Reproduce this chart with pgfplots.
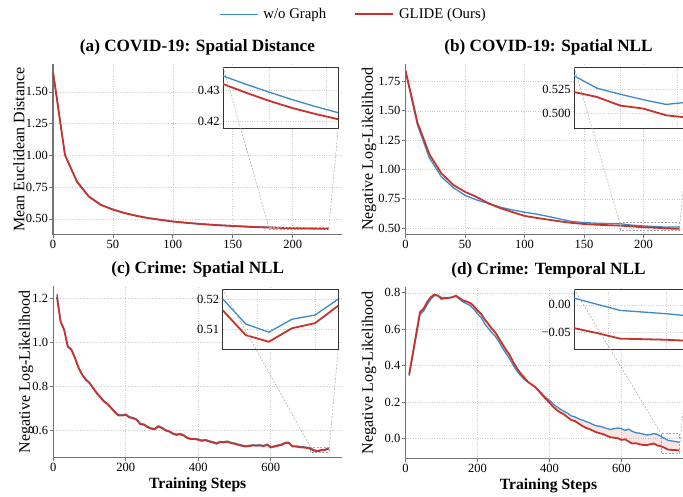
\documentclass[border={0pt 0pt -9pt 0pt}]{standalone}
\usepackage{fontspec}
\setmainfont{Liberation Serif}
\usepackage{pgfplots}
\pgfplotsset{compat=1.18}
\usepackage{pgfplotstable}
\usepgfplotslibrary{fillbetween}

\definecolor{cblue}{RGB}{59,138,200}
\definecolor{cred}{RGB}{200,50,42}
\definecolor{gridc}{RGB}{205,205,205}

\pgfplotstableread{
x blue red
0 1.662 1.660
10 1.005 1.003
20 0.795 0.793
30 0.677 0.675
40 0.612 0.610
50 0.575 0.573
60 0.547 0.545
70 0.525 0.523
80 0.507 0.505
90 0.494 0.492
100 0.481 0.479
110 0.472 0.470
120 0.464 0.462
130 0.457 0.455
140 0.451 0.449
150 0.446 0.444
160 0.442 0.439
170 0.438 0.435
180 0.4347 0.4321
190 0.4320 0.4293
200 0.4295 0.4267
210 0.4271 0.4244
220 0.4249 0.4225
230 0.4229 0.4208
}\tabA

\pgfplotstableread{
x blue red
0 1.835 1.845
10 1.380 1.400
20 1.100 1.130
30 0.940 0.970
40 0.847 0.870
50 0.780 0.810
60 0.740 0.765
70 0.710 0.710
80 0.678 0.670
90 0.656 0.637
100 0.636 0.605
110 0.620 0.588
120 0.600 0.573
130 0.578 0.558
140 0.557 0.545
150 0.548 0.536
160 0.543 0.530
170 0.540 0.526
180 0.539 0.522
190 0.526 0.5168
200 0.5197 0.5078
210 0.514 0.5047
220 0.509 0.4976
230 0.5115 0.495
}\tabB

\pgfplotstableread{
x blue red
10 1.220 1.207
20 1.097 1.094
30 1.059 1.056
40 0.983 0.980
50 0.969 0.966
60 0.931 0.928
70 0.886 0.883
80 0.855 0.852
90 0.833 0.830
100 0.818 0.815
110 0.795 0.792
120 0.772 0.769
130 0.753 0.750
140 0.734 0.731
150 0.722 0.719
160 0.704 0.701
170 0.686 0.683
180 0.671 0.668
190 0.671 0.668
200 0.674 0.671
210 0.662 0.659
220 0.659 0.656
230 0.651 0.648
240 0.632 0.629
250 0.629 0.626
260 0.618 0.615
270 0.611 0.608
280 0.609 0.606
290 0.621 0.618
300 0.614 0.611
310 0.603 0.600
320 0.598 0.595
330 0.588 0.585
340 0.583 0.580
350 0.586 0.583
360 0.580 0.577
370 0.568 0.565
380 0.564 0.561
390 0.564 0.561
400 0.561 0.558
410 0.556 0.553
420 0.559 0.556
430 0.553 0.550
440 0.549 0.546
450 0.543 0.540
460 0.550 0.547
470 0.549 0.546
480 0.552 0.549
490 0.546 0.543
500 0.543 0.540
510 0.538 0.535
520 0.534 0.531
530 0.530 0.527
540 0.532 0.529
550 0.535 0.532
560 0.534 0.531
570 0.535 0.532
580 0.532 0.529
590 0.538 0.535
600 0.526 0.523
610 0.530 0.527
620 0.534 0.531
630 0.538 0.535
640 0.546 0.543
650 0.546 0.543
660 0.530 0.527
670 0.530 0.527
680 0.527 0.524
690 0.526 0.523
700 0.524 0.521
710 0.5201 0.5163
720 0.5117 0.5080
730 0.5090 0.5058
740 0.5133 0.5103
750 0.5147 0.5120
760 0.5200 0.5178
}\tabC

\pgfplotstableread{
x blue red
10 0.345 0.352
20 0.456 0.466
30 0.568 0.580
40 0.680 0.694
50 0.700 0.713
60 0.735 0.749
70 0.765 0.776
80 0.785 0.791
90 0.785 0.785
100 0.775 0.767
110 0.775 0.771
120 0.773 0.773
130 0.776 0.776
140 0.783 0.785
150 0.765 0.771
160 0.750 0.758
170 0.740 0.753
180 0.730 0.744
190 0.710 0.727
200 0.685 0.703
210 0.665 0.685
220 0.630 0.654
230 0.605 0.630
240 0.580 0.603
250 0.560 0.581
260 0.530 0.549
270 0.495 0.516
280 0.465 0.485
290 0.435 0.457
300 0.400 0.417
310 0.370 0.385
320 0.345 0.357
330 0.325 0.335
340 0.310 0.312
350 0.297 0.297
360 0.285 0.284
370 0.265 0.262
380 0.245 0.239
390 0.225 0.217
400 0.210 0.197
410 0.190 0.175
420 0.175 0.157
430 0.162 0.144
440 0.150 0.133
450 0.140 0.118
460 0.125 0.102
470 0.120 0.097
480 0.110 0.084
490 0.102 0.071
500 0.095 0.060
510 0.088 0.053
520 0.078 0.044
530 0.070 0.035
540 0.068 0.029
550 0.062 0.024
560 0.055 0.015
570 0.050 0.007
580 0.055 0.005
590 0.058 0.002
600 0.055 -0.007
610 0.045 -0.004
620 0.052 -0.016
630 0.040 -0.027
640 0.032 -0.025
650 0.030 -0.031
660 0.025 -0.035
670 0.020 -0.036
680 0.022 -0.031
690 0.028 -0.027
700 0.022 -0.038
710 0.012 -0.042
720 0.001 -0.051
730 -0.010 -0.061
740 -0.013 -0.062
750 -0.016 -0.063
760 -0.020 -0.065
}\tabD

\tikzset{
  bl/.style={cblue, line width=1.3pt},
  rl/.style={cred, line width=1.8pt},
  imark/.style={black!35, line width=0.5pt, dash pattern=on 2pt off 1.5pt},
}

\pgfplotsset{
  mainax/.style={
    scale only axis,
    axis x line*=bottom, axis y line*=left,
    axis line style={black!55, line width=1.1pt, -},
    tick align=outside, major tick length=3.5pt,
    tick style={black!55, line width=0.8pt},
    grid=major, grid style={gridc, dotted, line width=0.6pt},
    ticklabel style={font=\fontsize{12.5}{14}\selectfont},
    yticklabel style={inner sep=1.5pt},
    xticklabel style={inner sep=1.5pt},
    /pgf/number format/assume math mode=true,
    scaled ticks=false,
    title style={font=\bfseries\fontsize{17.2}{20}\selectfont, at={(0.5,1)}, anchor=base, yshift=6.5pt},
    ylabel style={font=\fontsize{16}{19}\selectfont, anchor=center},
    xlabel style={font=\bfseries\fontsize{15.6}{18}\selectfont, at={(axis description cs:0.5,0)}, anchor=base, yshift=-30.5pt},
  },
  inax/.style={
    scale only axis,
    axis background/.style={fill=white},
    axis line style={black!80, line width=0.9pt},
    major tick length=2pt, tick style={draw=none},
    grid=major, grid style={gridc, dotted, line width=0.6pt},
    xticklabels={},
    ticklabel style={font=\fontsize{12.5}{14}\selectfont},
    /pgf/number format/assume math mode=true,
    scaled ticks=false,
  },
}

\begin{document}
\begin{tikzpicture}
\path (0pt,0pt) rectangle (692pt,493pt);

% (a)
\begin{axis}[mainax, at={(53pt,258pt)}, anchor=south west, width=289pt, height=171pt,
  xmin=0, xmax=241, ymin=0.374, ymax=1.72,
  xtick={0,50,100,150,200}, ytick={0.5,0.75,1,1.25,1.5},
  yticklabel style={/pgf/number format/.cd, fixed, fixed zerofill, precision=2},
  title={(a) COVID-19: Spatial Distance},
  ylabel={Mean Euclidean Distance},
  ylabel style={at={(axis description cs:-0.118,0.5)}},
  legend columns=2,
  legend style={draw=none, fill=none, at={(axis description cs:1.04,1.29)}, anchor=center,
    font=\fontsize{14.8}{17}\selectfont,
    /tikz/every even column/.append style={column sep=26pt},
    /tikz/every odd column/.append style={column sep=3pt}},
  legend image code/.code={\draw[#1] (0pt,0pt) -- (38pt,0pt);},
]
\addplot[bl] table[x=x,y=blue] {\tabA};
\addplot[rl] table[x=x,y=red] {\tabA};
\legend{w/o Graph, GLIDE (Ours)}
\draw[imark] (axis cs:180,0.4179) rectangle (axis cs:230,0.4375);
\coordinate (a1) at (axis cs:180,0.4375);
\coordinate (a2) at (axis cs:230,0.4179);
\end{axis}

% (b)
\begin{axis}[mainax, at={(405.7pt,258pt)}, anchor=south west, width=286pt, height=171pt,
  xmin=0, xmax=240.2, ymin=0.443, ymax=1.90,
  xtick={0,50,100,150,200}, ytick={0.5,0.75,1,1.25,1.5,1.75},
  yticklabel style={/pgf/number format/.cd, fixed, fixed zerofill, precision=2},
  title={(b) COVID-19: Spatial NLL},
  ylabel={Negative Log-Likelihood},
  ylabel style={at={(axis description cs:-0.128,0.5)}},
]
\addplot[bl] table[x=x,y=blue] {\tabB};
\addplot[rl] table[x=x,y=red] {\tabB};
\draw[imark] (axis cs:180,0.484) rectangle (axis cs:230,0.548);
\coordinate (b1) at (axis cs:180,0.548);
\coordinate (b2) at (axis cs:230,0.484);
\end{axis}

% (c)
\begin{axis}[mainax, at={(53.3pt,35pt)}, anchor=south west, width=289pt, height=172pt,
  xmin=0, xmax=797, ymin=0.476, ymax=1.256,
  xtick={0,200,400,600}, ytick={0.6,0.8,1.0,1.2},
  yticklabel style={/pgf/number format/.cd, fixed, fixed zerofill, precision=1},
  title={(c) Crime: Spatial NLL},
  xlabel={Training Steps},
  ylabel={Negative Log-Likelihood},
  ylabel style={at={(axis description cs:-0.0945,0.5)}},
]
\addplot[bl] table[x=x,y=blue] {\tabC};
\addplot[rl] table[x=x,y=red] {\tabC};
\draw[imark] (axis cs:710,0.5031) rectangle (axis cs:760,0.5233);
\coordinate (c1) at (axis cs:710,0.5233);
\coordinate (c2) at (axis cs:760,0.5031);
\end{axis}

% (d)
\begin{axis}[mainax, at={(405.7pt,34pt)}, anchor=south west, width=286pt, height=172pt,
  xmin=0, xmax=794.4, ymin=-0.111, ymax=0.833,
  xtick={0,200,400,600}, ytick={0,0.2,0.4,0.6,0.8},
  yticklabel style={/pgf/number format/.cd, fixed, fixed zerofill, precision=1},
  title={(d) Crime: Temporal NLL},
  xlabel={Training Steps},
  ylabel={Negative Log-Likelihood},
  ylabel style={at={(axis description cs:-0.128,0.5)}},
]
\addplot[draw=none, name path=db] table[x=x,y=blue] {\tabD};
\addplot[draw=none, name path=dr] table[x=x,y=red] {\tabD};
\addplot[cred, fill opacity=0.12, draw=none] fill between[of=db and dr];
\addplot[bl] table[x=x,y=blue] {\tabD};
\addplot[rl] table[x=x,y=red] {\tabD};
\draw[imark] (axis cs:710,-0.0813) rectangle (axis cs:760,0.0283);
\coordinate (d1) at (axis cs:710,0.0283);
\coordinate (d2) at (axis cs:760,-0.0813);
\end{axis}

% insets
\begin{axis}[inax, name=insA, at={(223.3pt,364.7pt)}, anchor=south west, width=115pt, height=61pt,
  xmin=180, xmax=230, ymin=0.4179, ymax=0.4375,
  xtick={200,225}, ytick={0.42,0.43},
  yticklabel style={/pgf/number format/.cd, fixed, fixed zerofill, precision=2}]
\addplot[bl] table[x=x,y=blue] {\tabA};
\addplot[rl] table[x=x,y=red] {\tabA};
\end{axis}

\begin{axis}[inax, name=insB, at={(574.3pt,364.7pt)}, anchor=south west, width=115pt, height=61pt,
  xmin=180, xmax=230, ymin=0.484, ymax=0.548,
  xtick={200,225}, ytick={0.5,0.525},
  yticklabel style={/pgf/number format/.cd, fixed, fixed zerofill, precision=3}]
\addplot[bl] table[x=x,y=blue] {\tabB};
\addplot[rl] table[x=x,y=red] {\tabB};
\end{axis}

\begin{axis}[inax, name=insC, at={(222.7pt,143pt)}, anchor=south west, width=115.6pt, height=60.7pt,
  xmin=710, xmax=760, ymin=0.5031, ymax=0.5233,
  xtick={725,750}, ytick={0.51,0.52},
  yticklabel style={/pgf/number format/.cd, fixed, fixed zerofill, precision=2}]
\addplot[bl] table[x=x,y=blue] {\tabC};
\addplot[rl] table[x=x,y=red] {\tabC};
\end{axis}

\begin{axis}[inax, name=insD, at={(574.3pt,143pt)}, anchor=south west, width=115pt, height=60.7pt,
  xmin=710, xmax=760, ymin=-0.0813, ymax=0.0283,
  xtick={725,750}, ytick={-0.05,0}, yticklabels={−0.05,0.00}]
\addplot[bl] table[x=x,y=blue] {\tabD};
\addplot[rl] table[x=x,y=red] {\tabD};
\end{axis}

\draw[imark] (insA.north west) -- (a1);
\draw[imark] (insA.south east) -- (a2);
\draw[imark] (insB.north west) -- (b1);
\draw[imark] (insB.south east) -- (b2);
\draw[imark] (insC.north west) -- (c1);
\draw[imark] (insC.south east) -- (c2);
\draw[imark] (insD.north west) -- (d1);
\draw[imark] (insD.south east) -- (d2);
\end{tikzpicture}
\end{document}
